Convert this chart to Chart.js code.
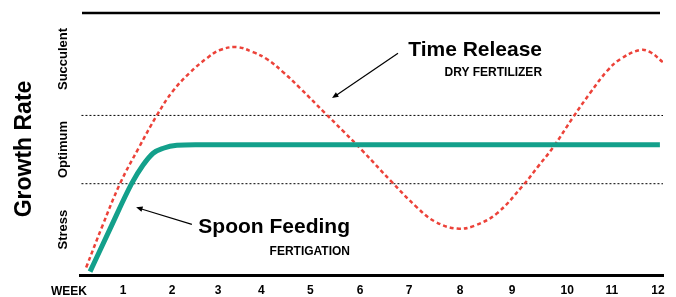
<!DOCTYPE html>
<html>
<head>
<meta charset="utf-8">
<script src="https://cdn.jsdelivr.net/npm/chart.js@4.4.1/dist/chart.umd.min.js"></script>
<style>
  html, body { margin: 0; padding: 0; background: #fff; }
  #wrap { width: 676px; height: 297px; }
</style>
</head>
<body>
<div id="wrap"><canvas id="growthChart"></canvas></div>
<script>
  // x in weeks, y in growth rate (0 - 100)
  const weekLabels = ['1', '2', '3', '4', '5', '6', '7', '8', '9', '10', '11', '12'];
  const weekTicks = [1.0, 2.01, 2.96, 3.85, 4.86, 5.89, 6.9, 7.95, 9.02, 10.16, 11.08, 12.03];

  const zoneNames = ['Stress', 'Optimum', 'Succulent'];
  const zoneLimits = [35, 61];
  const zoneLabelY = [17.5, 48, 82.5];

  // Spoon feeding (fertigation)
  const spoonX = [0.32, 0.73, 1.18, 1.41, 1.62, 1.83, 2.11, 2.49, 12.07];
  const spoonY = [1.5, 17.7, 35.1, 42.0, 46.6, 48.5, 49.6, 49.8, 49.8];

  // Time release (dry fertilizer)
  const releaseX = [0.24, 0.57, 0.94, 1.32, 1.7, 2.03, 2.38, 2.73, 3.0, 3.35, 3.68, 3.97, 4.3, 4.65, 5.17, 5.54,
    5.93, 6.55, 7.06, 7.43, 7.89, 8.26, 8.71, 9.25, 9.56, 9.87, 10.28, 10.63, 10.98, 11.25, 11.66, 11.87, 12.13];
  const releaseY = [3.1, 18.7, 35.1, 48.5, 61.1, 70.3, 77.3, 82.8, 85.9, 87.0, 85.1, 82.4, 77.5, 71.4, 61.8, 55.0,
    47.7, 35.5, 26.0, 20.6, 17.9, 19.1, 23.7, 34.4, 41.6, 48.9, 60.3, 69.5, 77.9, 82.4, 85.9, 85.1, 81.3];

  const xMin = 0.113, xMax = 12.134;
  const FONT = '"Liberation Sans", Arial, Helvetica, sans-serif';
  Chart.defaults.font.family = FONT;

  function pts(xs, ys) {
    return xs.map((x, i) => ({ x: x, y: ys[i] }));
  }

  function arrow(ctx, x1, y1, x2, y2) {
    const a = Math.atan2(y2 - y1, x2 - x1);
    const h = 7;
    ctx.beginPath();
    ctx.moveTo(x1, y1);
    ctx.lineTo(x2 - Math.cos(a) * h * 0.8, y2 - Math.sin(a) * h * 0.8);
    ctx.stroke();
    ctx.beginPath();
    ctx.moveTo(x2, y2);
    ctx.lineTo(x2 - h * Math.cos(a - 0.4), y2 - h * Math.sin(a - 0.4));
    ctx.lineTo(x2 - h * Math.cos(a + 0.4), y2 - h * Math.sin(a + 0.4));
    ctx.closePath();
    ctx.fill();
  }

  const decor = {
    id: 'decor',
    afterDraw(chart) {
      const ctx = chart.ctx;
      const area = chart.chartArea;
      const xs = chart.scales.x, ys = chart.scales.y;
      ctx.save();
      ctx.fillStyle = '#000';
      ctx.strokeStyle = '#000';

      // top line
      ctx.lineWidth = 2.5;
      ctx.beginPath();
      ctx.moveTo(area.left + 2, area.top);
      ctx.lineTo(area.right - 3, area.top);
      ctx.stroke();

      // y title
      ctx.textAlign = 'center';
      ctx.textBaseline = 'middle';
      ctx.save();
      ctx.translate(25, 149);
      ctx.rotate(-Math.PI / 2);
      ctx.font = 'bold 23px ' + FONT;
      ctx.fillText('Growth Rate', 0, 0);
      ctx.restore();

      // zone labels
      ctx.font = 'bold 13px ' + FONT;
      zoneNames.forEach((name, i) => {
        ctx.save();
        ctx.translate(63, ys.getPixelForValue(zoneLabelY[i]));
        ctx.rotate(-Math.PI / 2);
        ctx.fillText(name, 0, 0);
        ctx.restore();
      });

      // WEEK
      ctx.font = 'bold 12px ' + FONT;
      ctx.fillText('WEEK', 69, area.bottom + 16);

      // annotations
      ctx.textAlign = 'right';
      ctx.font = 'bold 21px ' + FONT;
      ctx.fillText('Time Release', xs.getPixelForValue(9.64), ys.getPixelForValue(85.9));
      ctx.fillText('Spoon Feeding', xs.getPixelForValue(5.68), ys.getPixelForValue(18.3));
      ctx.font = 'bold 12px ' + FONT;
      ctx.fillText('DRY FERTILIZER', xs.getPixelForValue(9.64), ys.getPixelForValue(77.2));
      ctx.fillText('FERTIGATION', xs.getPixelForValue(5.68), ys.getPixelForValue(9.2));

      ctx.lineWidth = 1.2;
      arrow(ctx, xs.getPixelForValue(6.67), ys.getPixelForValue(84.7), xs.getPixelForValue(5.31), ys.getPixelForValue(67.6));
      arrow(ctx, xs.getPixelForValue(2.42), ys.getPixelForValue(19.5), xs.getPixelForValue(1.27), ys.getPixelForValue(26.0));
      ctx.restore();
    }
  };

  const dotted = zoneLimits.map(v => ({
    data: [{ x: xMin + 0.03, y: v }, { x: xMax, y: v }],
    borderColor: '#000',
    borderWidth: 1,
    borderDash: [2, 2],
    pointRadius: 0
  }));

  new Chart(document.getElementById('growthChart'), {
    type: 'line',
    data: {
      datasets: [
        {
          label: 'Spoon Feeding',
          data: pts(spoonX, spoonY),
          borderColor: '#13a08b',
          borderWidth: 5,
          pointRadius: 0,
          cubicInterpolationMode: 'monotone'
        },
        {
          label: 'Time Release',
          data: pts(releaseX, releaseY),
          borderColor: '#ec4239',
          borderWidth: 2.5,
          borderDash: [4, 3],
          pointRadius: 0,
          tension: 0.4
        }
      ].concat(dotted)
    },
    options: {
      responsive: true,
      maintainAspectRatio: false,
      animation: false,
      devicePixelRatio: 1,
      layout: { padding: { left: 80, right: 13, top: 13, bottom: -9 } },
      plugins: { legend: { display: false }, tooltip: { enabled: false } },
      scales: {
        x: {
          type: 'linear',
          min: xMin,
          max: xMax,
          afterBuildTicks: (scale) => { scale.ticks = weekTicks.map(v => ({ value: v })); },
          grid: { display: false, drawTicks: false },
          border: { display: true, color: '#000', width: 3 },
          ticks: {
            autoSkip: false,
            maxRotation: 0,
            padding: 8,
            color: '#000',
            font: { size: 12, weight: 'bold' },
            callback: (value, index) => weekLabels[index]
          }
        },
        y: {
          display: false,
          min: 0,
          max: 100
        }
      }
    },
    plugins: [decor]
  });
</script>
</body>
</html>
